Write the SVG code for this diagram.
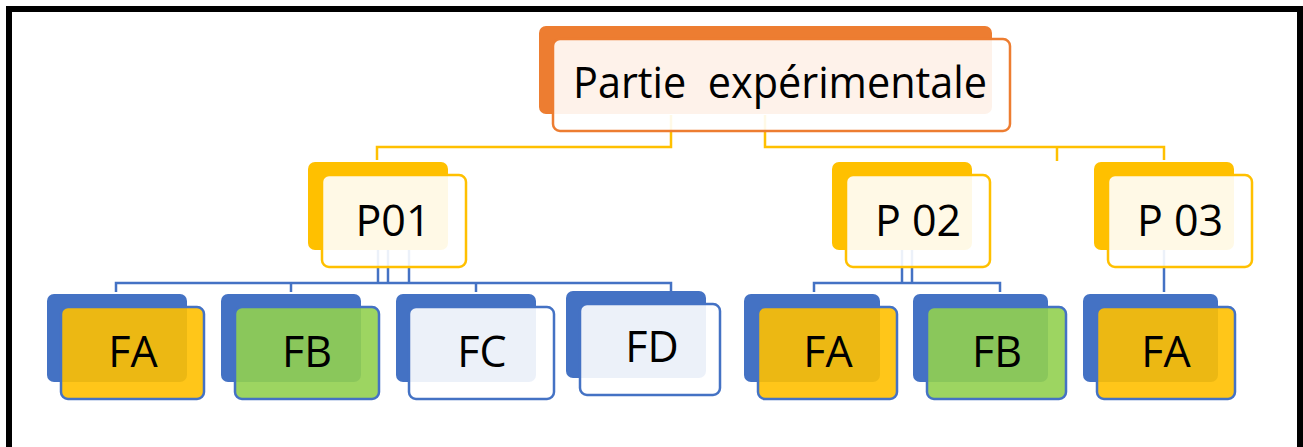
<svg xmlns="http://www.w3.org/2000/svg" width="1303" height="447" viewBox="0 0 1303 447">
<style>
.frame{fill:#fff;stroke:#000;stroke-width:6}
.yl{fill:none;stroke:#FFC000;stroke-width:2.5}
.bl{fill:none;stroke:#4472C4;stroke-width:2.5}
.backO{fill:#ED7D31}
.backY{fill:#FFC000}
.backB{fill:#4472C4}
.frontO{fill:#fff;fill-opacity:.9;stroke:#ED7D31;stroke-width:2.5}
.frontY{fill:#fff;fill-opacity:.9;stroke:#FFC000;stroke-width:2.5}
.frontA{fill:#FFC000;fill-opacity:.9;stroke:#4472C4;stroke-width:2.5}
.frontG{fill:#92D050;fill-opacity:.9;stroke:#4472C4;stroke-width:2.5}
.frontW{fill:#fff;fill-opacity:.9;stroke:#4472C4;stroke-width:2.5}
text{font-family:"Open Sans","Noto Sans",sans-serif;font-size:43px;fill:#000;text-anchor:middle}
</style>
<rect class="frame" x="9" y="9" width="1291" height="460"/>
<g id="connectors">
<polyline class="yl" points="671,115 671,147 377,147 377,160"/>
<polyline class="yl" points="765,115 765,147 1164,147 1164,160"/>
<line class="yl" x1="1057" y1="147" x2="1057" y2="161"/>
<polyline class="bl" points="116,292 116,283 671,283 671,291"/>
<line class="bl" x1="291" y1="283" x2="291" y2="292"/>
<line class="bl" x1="476" y1="283" x2="476" y2="292"/>
<line class="bl" x1="378" y1="250" x2="378" y2="283"/>
<line class="bl" x1="388" y1="250" x2="388" y2="283"/>
<line class="bl" x1="409" y1="250" x2="409" y2="283"/>
<polyline class="bl" points="814,292 814,283 1000,283 1000,292"/>
<line class="bl" x1="902" y1="250" x2="902" y2="283"/>
<line class="bl" x1="912" y1="250" x2="912" y2="283"/>
<line class="bl" x1="1164" y1="250" x2="1164" y2="292"/>
</g>
<g id="root">
<rect class="backO" x="539" y="26" width="453" height="88" rx="7"/>
<rect class="frontO" x="553" y="39" width="457" height="92" rx="7"/>
<text x="780" y="98" textLength="414" lengthAdjust="spacingAndGlyphs">Partie&#160; expérimentale</text>
</g>
<g id="p01">
<rect class="backY" x="308" y="162" width="140" height="88" rx="7"/>
<rect class="frontY" x="322" y="175" width="144" height="92" rx="7"/>
<text x="393" y="236">P01</text>
</g>
<g id="p02">
<rect class="backY" x="832" y="162" width="140" height="88" rx="7"/>
<rect class="frontY" x="846" y="175" width="144" height="92" rx="7"/>
<text x="918" y="236">P 02</text>
</g>
<g id="p03">
<rect class="backY" x="1094" y="162" width="140" height="88" rx="7"/>
<rect class="frontY" x="1108" y="175" width="144" height="92" rx="7"/>
<text x="1180" y="236">P 03</text>
</g>
<g id="fa1">
<rect class="backB" x="47" y="294" width="140" height="88" rx="7"/>
<rect class="frontA" x="61" y="307" width="143" height="92" rx="7"/>
<text x="133" y="367">FA</text>
</g>
<g id="fb1">
<rect class="backB" x="221" y="294" width="140" height="88" rx="7"/>
<rect class="frontG" x="235" y="307" width="144" height="92" rx="7"/>
<text x="307" y="367">FB</text>
</g>
<g id="fc1">
<rect class="backB" x="396" y="294" width="140" height="88" rx="7"/>
<rect class="frontW" x="409" y="307" width="145" height="92" rx="7"/>
<text x="482" y="367">FC</text>
</g>
<g id="fd1">
<rect class="backB" x="566" y="291" width="140" height="87" rx="7"/>
<rect class="frontW" x="580" y="304" width="140" height="91" rx="7"/>
<text x="652" y="362">FD</text>
</g>
<g id="fa2">
<rect class="backB" x="744" y="294" width="136" height="88" rx="7"/>
<rect class="frontA" x="758" y="307" width="139" height="92" rx="7"/>
<text x="828" y="367">FA</text>
</g>
<g id="fb2">
<rect class="backB" x="913" y="294" width="135" height="88" rx="7"/>
<rect class="frontG" x="927" y="307" width="139" height="92" rx="7"/>
<text x="997" y="367">FB</text>
</g>
<g id="fa3">
<rect class="backB" x="1083" y="294" width="135" height="88" rx="7"/>
<rect class="frontA" x="1097" y="307" width="138" height="92" rx="7"/>
<text x="1166" y="367">FA</text>
</g>
</svg>
